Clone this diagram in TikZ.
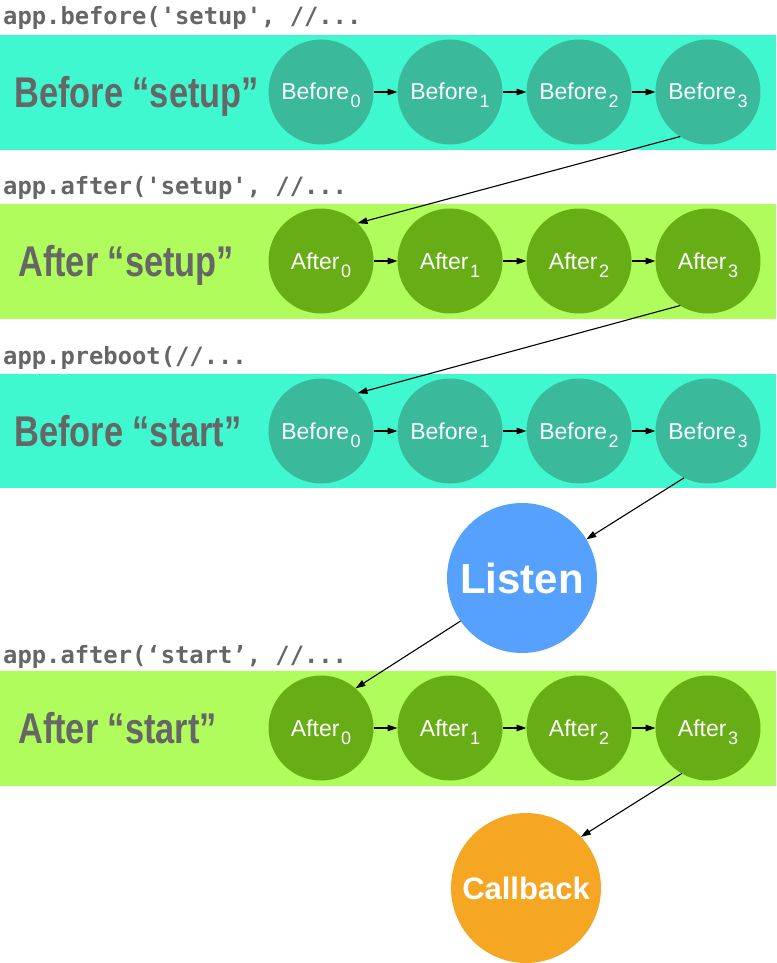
\documentclass[tikz,border=0pt]{standalone}
\usepackage{fontspec}
\setmainfont{Liberation Sans}
\newfontfamily\codefont{DejaVu Sans Mono}
\newfontfamily\titlefont{Liberation Sans}[FakeStretch=0.8]
\usetikzlibrary{arrows.meta}
\definecolor{Aqua}{HTML}{40F8D0}
\definecolor{Teal}{HTML}{3AB99B}
\definecolor{Lime}{HTML}{B0FC5C}
\definecolor{Leaf}{HTML}{67AD16}
\definecolor{Sky}{HTML}{56A1FD}
\definecolor{Amber}{HTML}{F5A623}
\definecolor{Slate}{HTML}{666666}
\newcommand{\idx}[1]{\hspace{1.5pt}\raisebox{-8pt}{\fontsize{18}{18}\selectfont #1}}

\begin{document}
\begin{tikzpicture}[
    x=1pt, y=-1pt,
    code/.style={anchor=base west, inner sep=0pt, text=Slate,
        font=\codefont\bfseries\fontsize{23.8}{24}\selectfont},
    title/.style={anchor=base west, inner sep=0pt, text=Slate,
        font=\titlefont\bfseries\fontsize{43}{44}\selectfont},
    hook/.style={circle, minimum size=105pt, inner sep=0pt, outer sep=0pt,
        text=white, text height=16pt, text depth=0pt,
        font=\fontsize{23}{23}\selectfont},
    event/.style={circle, minimum size=150pt, inner sep=0pt, outer sep=0pt,
        text=white, font=\bfseries},
    arr/.style={-{Triangle[length=10pt, width=6.5pt]}, line width=1.1pt},
]
\useasboundingbox (0,0) rectangle (776,963);

% =============================================
% BEFORE SETUP
% =============================================
\node[code] (cbs) at (3, 25) {app.before('setup', //...};
\fill[Aqua] (0, 35) rectangle (776, 150);
\node[title] (tbs) at (14, 107) {Before “setup”};

\node[hook, fill=Teal] (bs0) at (321, 92) {Before\idx{0}};
\node[hook, fill=Teal] (bs1) at (450, 92) {Before\idx{1}};
\node[hook, fill=Teal] (bs2) at (579, 92) {Before\idx{2}};
\node[hook, fill=Teal] (bs3) at (708, 92) {Before\idx{3}};

\draw[arr] (bs0) -- (bs1);
\draw[arr] (bs1) -- (bs2);
\draw[arr] (bs2) -- (bs3);

% =============================================
% AFTER SETUP
% =============================================
\node[code] (cas) at (3, 194) {app.after('setup', //...};
\fill[Lime] (0, 204) rectangle (776, 319);
\node[title] (tas) at (18, 276) {After “setup”};

\node[hook, fill=Leaf] (as0) at (321, 261) {After\idx{0}};
\node[hook, fill=Leaf] (as1) at (450, 261) {After\idx{1}};
\node[hook, fill=Leaf] (as2) at (579, 261) {After\idx{2}};
\node[hook, fill=Leaf] (as3) at (708, 261) {After\idx{3}};

\draw[arr] (as0) -- (as1);
\draw[arr] (as1) -- (as2);
\draw[arr] (as2) -- (as3);

% =============================================
% BEFORE START
% =============================================
\node[code] (cbt) at (3, 364) {app.preboot(//...};
\fill[Aqua] (0, 374) rectangle (776, 488);
\node[title] (tbt) at (14, 446) {Before “start”};

\node[hook, fill=Teal] (bt0) at (321, 431) {Before\idx{0}};
\node[hook, fill=Teal] (bt1) at (450, 431) {Before\idx{1}};
\node[hook, fill=Teal] (bt2) at (579, 431) {Before\idx{2}};
\node[hook, fill=Teal] (bt3) at (708, 431) {Before\idx{3}};

\draw[arr] (bt0) -- (bt1);
\draw[arr] (bt1) -- (bt2);
\draw[arr] (bt2) -- (bt3);

% === Listen ===
\node[event, fill=Sky, font=\bfseries\fontsize{42}{42}\selectfont]
    (listen) at (522, 578) {Listen};

% =============================================
% AFTER START
% =============================================
\node[code] (cat) at (3, 663) {app.after(‘start’, //...};
\fill[Lime] (0, 671) rectangle (776, 786);
\node[title] (tat) at (18, 743) {After “start”};

\node[hook, fill=Leaf] (at0) at (321, 728) {After\idx{0}};
\node[hook, fill=Leaf] (at1) at (450, 728) {After\idx{1}};
\node[hook, fill=Leaf] (at2) at (579, 728) {After\idx{2}};
\node[hook, fill=Leaf] (at3) at (708, 728) {After\idx{3}};

\draw[arr] (at0) -- (at1);
\draw[arr] (at1) -- (at2);
\draw[arr] (at2) -- (at3);

% === Callback ===
\node[event, fill=Amber, font=\bfseries\fontsize{31}{31}\selectfont]
    (callback) at (526, 888) {Callback};

% =============================================
% LINKS BETWEEN STAGES
% =============================================
\draw[arr] (bs3.238) -- (as0.46);
\draw[arr] (as3.238) -- (bt0.46);
\draw[arr] (bt3.243) -- (listen.31);
\draw[arr] (listen.215) -- (at0.49);
\draw[arr] (at3.240) -- (callback.43);

\end{tikzpicture}
\end{document}
